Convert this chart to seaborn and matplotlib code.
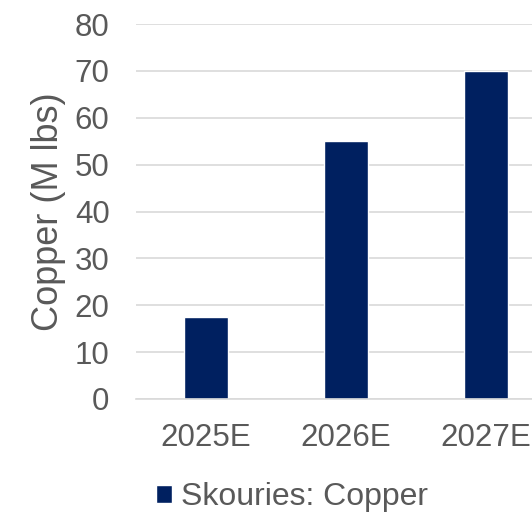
import pandas as pd
import matplotlib.pyplot as plt
import seaborn as sns

# -----------------------------
# Data
# -----------------------------

years = ["2025E", "2026E", "2027E"]
copper = [17.5, 55, 70]
series = ["Skouries: Copper"] * 3

df = pd.DataFrame({"Year": years, "Copper": copper, "Series": series})

sns.set_style("white")
plt.rcParams["font.family"] = ["Liberation Sans", "DejaVu Sans"]

gray = "#595959"
grid = "#d9d9d9"

fig = plt.figure(figsize=(5.32, 5.12), dpi=100)
ax = fig.add_axes([136 / 532, 113 / 512, 420 / 532, 375 / 512])

sns.barplot(
    data=df,
    x="Year",
    y="Copper",
    hue="Series",
    palette=["#002060"],
    saturation=1,
    width=0.314,
    ax=ax,
    legend=True,
)

ax.set_xlim(-0.5, 2.5)
ax.set_ylim(0, 80)
ax.set_yticks(range(0, 90, 10))
ax.yaxis.grid(True, color=grid, linewidth=1.2)
ax.set_axisbelow(True)

for s in ["top", "right", "left"]:
    ax.spines[s].set_visible(False)
ax.spines["bottom"].set_color(grid)
ax.spines["bottom"].set_linewidth(1.2)

ax.tick_params(axis="both", length=0, labelsize=22.5, colors=gray)
ax.tick_params(axis="y", pad=19)
ax.tick_params(axis="x", pad=17)
ax.set_xlabel("")
ax.set_ylabel("Copper (M lbs)", fontsize=26, color=gray, labelpad=6)

ax.get_legend().remove()
leg = fig.legend(
    loc="center",
    bbox_to_anchor=(292 / 532, 1 - 497 / 512),
    frameon=False,
    fontsize=23,
    handlelength=0.5,
    handleheight=0.5,
    handletextpad=0.3,
    labelcolor=gray,
)

fig.savefig("out.png", dpi=100)
plt.close()
